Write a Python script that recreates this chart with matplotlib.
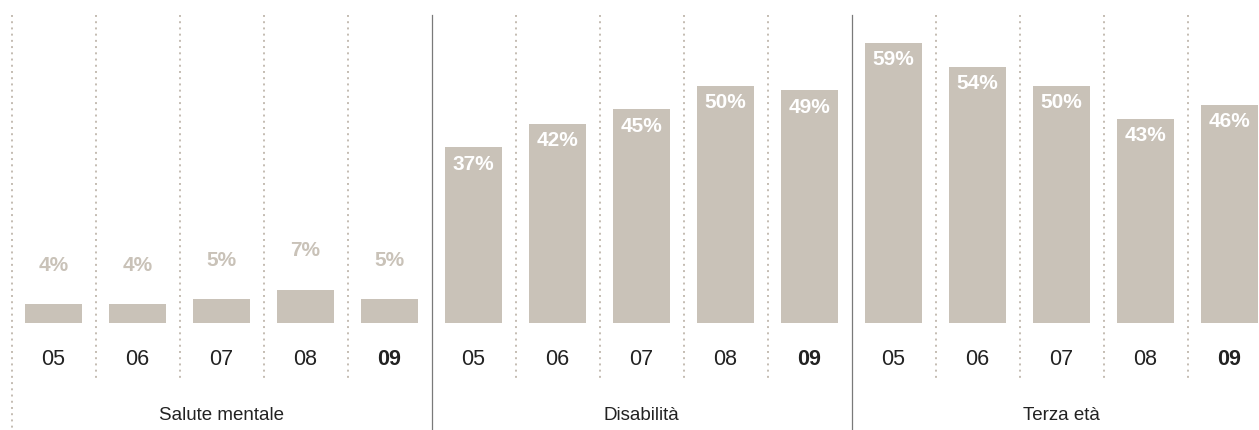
import numpy as np
import matplotlib.pyplot as plt

plt.rcParams['font.family'] = ['Liberation Sans', 'DejaVu Sans']

groups = ['Salute mentale', 'Disabilità', 'Terza età']
years = ['05', '06', '07', '08', '09']
salute = [4, 4, 5, 7, 5]
disabilita = [37, 42, 45, 50, 49]
terza = [59, 54, 50, 43, 46]

bar_col = '#c9c2b8'
dot_col = '#c4bcb2'
values = salute + disabilita + terza
n = len(years)
x = np.arange(len(values))

fig = plt.figure(figsize=(12.59, 4.30), dpi=100)
ax = fig.add_axes([0, 0, 1, 1])
ax.set_xlim(-0.637, 14.351)
ax.set_ylim(-22.5, 68.0)
ax.axis('off')

ax.bar(x, values, width=0.68, color=bar_col, linewidth=0)

for xi, v in zip(x, values):
    if v < 20:
        ax.text(xi, v + 8.2, f'{v}%', ha='center', va='center',
                fontsize=15, fontweight='bold', color=bar_col)
    else:
        ax.text(xi, v - 3.6, f'{v}%', ha='center', va='center',
                fontsize=15, fontweight='bold', color='white')

# year labels, last year in bold
for g in range(len(groups)):
    for j, yr in enumerate(years):
        ax.text(g * n + j, -7.6, yr, ha='center', va='center', fontsize=15.5,
                color='#222222', fontweight='bold' if j == n - 1 else 'normal')
    ax.text(g * n + (n - 1) / 2, -19.4, groups[g], ha='center', va='center',
            fontsize=13.5, color='#222222')

# separators: dotted between years, solid between groups
for k in range(len(values)):
    xs = k - 0.5
    if k == 0:
        ax.plot([xs, xs], [64.8, -22.5], color=dot_col, lw=1.4,
                linestyle=(0, (1, 2.2)))
    elif k % n == 0:
        ax.plot([xs, xs], [64.8, -22.5], color='#7a7a7a', lw=0.9)
    else:
        ax.plot([xs, xs], [64.8, -11.6], color=dot_col, lw=1.4,
                linestyle=(0, (1, 2.2)))

fig.savefig('out.png', dpi=100)
